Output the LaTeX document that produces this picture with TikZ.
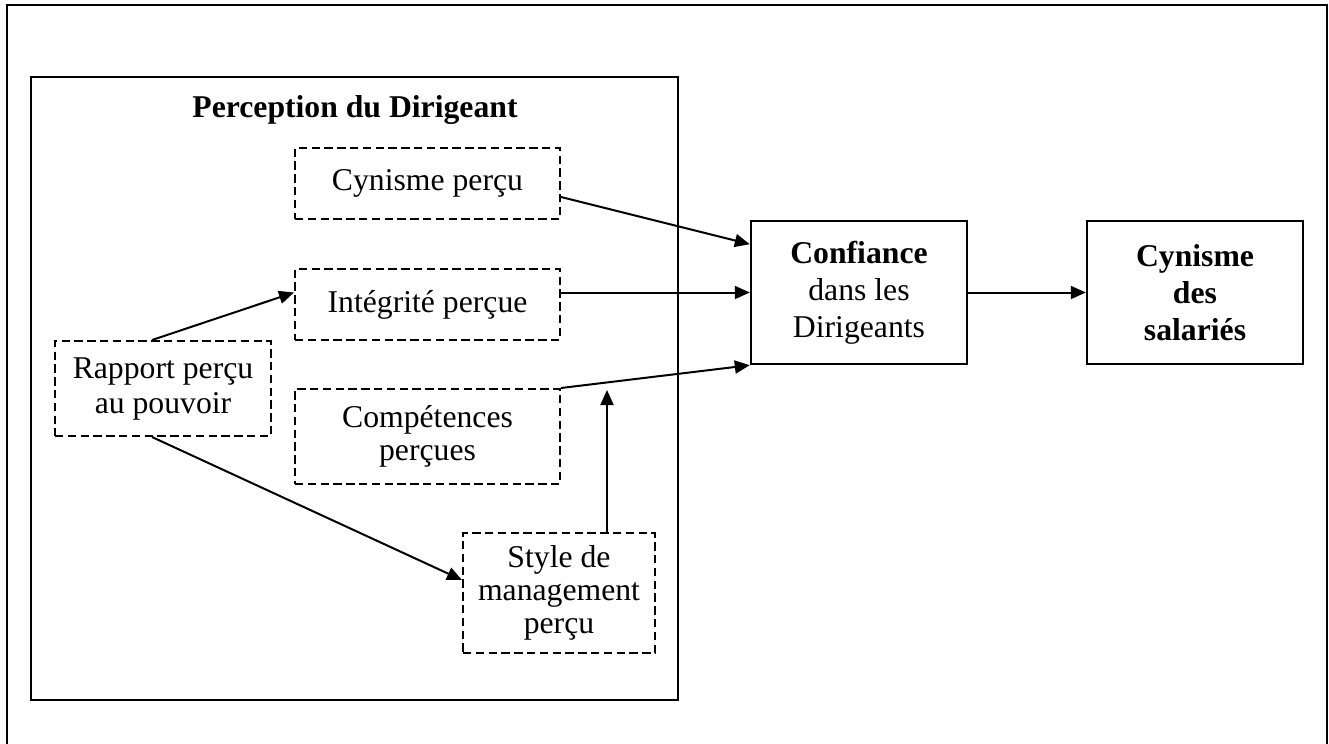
\documentclass[tikz,border=0pt]{standalone}
\usepackage{fontspec}
\setmainfont{Liberation Serif}
\usetikzlibrary{arrows.meta,calc}

\tikzset{
  base/.style={font=\fontsize{15.85}{16.5}\selectfont, align=center, inner sep=0pt},
  dashbox/.style={base, draw, line width=1pt, dash pattern=on 4.2pt off 2.2pt},
  solidbox/.style={base, draw, line width=1.2pt},
  frameline/.style={line width=1.3pt},
  link/.style={line width=1pt, -{Triangle[length=7.5pt,width=6.5pt]}}
}

\begin{document}
\begin{tikzpicture}[x=0.5pt, y=-0.5pt]
\useasboundingbox (0,0) rectangle (1329,744);

% outer frame (open at the bottom)
\draw[frameline] (7,746) -- (7,5) -- (1327,5) -- (1327,746);

% group frame with its title
\draw[line width=1.4pt] (31,77) rectangle (678,700);
\node[base, anchor=base, font=\fontsize{15.85}{16.5}\selectfont\bfseries] (title) at (355,117) {Perception du Dirigeant};

% perceived dimensions
\node[dashbox, minimum width=132.5pt, minimum height=35.5pt] (cyn) at (427.5,183.5) {Cynisme perçu};
\node[dashbox, minimum width=132.5pt, minimum height=35.5pt] (integ) at (427.5,304.5) {Intégrité perçue};
\node[dashbox, minimum width=108pt, minimum height=47.5pt, font=\fontsize{15.85}{17.5}\selectfont] (rapp) at (163,388.5) {Rapport perçu\\au pouvoir};
\node[dashbox, minimum width=132.5pt, minimum height=47.5pt] (comp) at (427.5,436.5) {Compétences\\perçues};
\node[dashbox, minimum width=96pt, minimum height=60pt] (style) at (559,593) {Style de\\management\\perçu};

% outcomes
\node[solidbox, minimum width=108pt, minimum height=71.5pt, font=\fontsize{15.85}{18.5}\selectfont] (conf) at (859,292.5) {\textbf{Confiance}\\dans les\\Dirigeants};
\node[solidbox, minimum width=108pt, minimum height=71.5pt, font=\fontsize{15.85}{18.5}\selectfont\bfseries] (sal) at (1195,292.5) {Cynisme\\des\\salariés};

\coordinate (tip) at (607,390);

% connectors
\draw[link] ([yshift=-6.75pt]cyn.east) -- ($(conf.north west)!0.168!(conf.south west)$);
\draw[link] (integ.east |- conf.west) -- (conf.west);
\draw[link] (comp.north east) -- (conf.south west);
\draw[link] ([xshift=-5.5pt]rapp.north) -- (integ.west |- conf.west);
\draw[link] ([xshift=-5.5pt]rapp.south) -- ([yshift=6.5pt]style.west);
\draw[link] (style.north -| tip) -- (tip);
\draw[link] (conf.east) -- (sal.west);
\end{tikzpicture}
\end{document}
